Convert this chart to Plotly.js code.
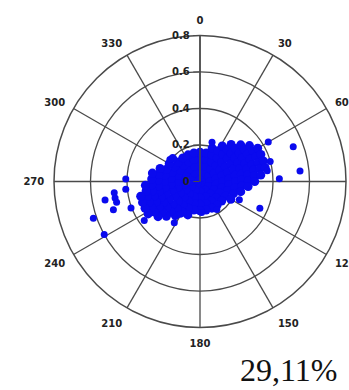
<!DOCTYPE html>
<html>
<head>
<meta charset="utf-8">
<script src="https://cdn.plot.ly/plotly-3.0.1.min.js"></script>
<style>html,body{margin:0;padding:0;background:#fff;}#chart{width:349px;height:390px;}</style>
</head>
<body>
<div id="chart"></div>
<script>
// Angular tick labels (degrees, clockwise from north)
var angleTicks = [0, 30, 60, 90, 120, 150, 180, 210, 240, 270, 300, 330];
// Radial tick values
var radialTicks = [0, 0.2, 0.4, 0.6, 0.8];
var percentLabel = "29,11%";

// Dense cluster of points (radius, angle in degrees)
var clusterR = [
  0.02,0.02,0.02,0.02,0.02,0.02,
  0.055,0.055,0.055,0.055,0.055,0.055,0.055,0.055,0.055,0.055,0.055,0.055,
  0.09,0.09,0.09,0.09,0.09,0.09,0.09,0.09,0.09,0.09,0.09,0.09,0.09,0.09,0.09,0.09,0.09,0.09,
  0.125,0.125,0.125,0.125,0.125,0.125,0.125,0.125,0.125,0.125,0.125,0.125,
  0.125,0.125,0.125,0.125,0.125,0.125,0.125,0.125,0.125,0.125,0.125,0.125,
  0.16,0.16,0.16,0.16,0.16,0.16,0.16,0.16,0.16,0.16,0.16,0.16,0.16,0.16,0.16,
  0.16,0.16,0.16,0.16,0.16,0.16,0.16,0.16,0.16,0.16,0.16,0.16,0.16,0.16,0.16,
  0.195,0.195,0.195,0.195,0.195,0.195,0.195,0.195,0.195,0.195,0.195,
  0.195,0.195,0.195,0.195,0.195,0.195,0.195,0.195,0.195,0.195,0.195,0.195,
  0.23,0.23,0.23,0.23,0.23,0.23,0.23,0.23,0.23,0.23,
  0.23,0.23,0.23,0.23,0.23,0.23,0.23,0.23,0.23,0.23,
  0.265,0.265,0.265,0.265,0.265,0.265,0.265,0.265,0.265,
  0.265,0.265,0.265,0.265,0.265,0.265,0.265,0.265,0.265,
  0.30,0.30,0.30,0.30,0.30,0.30,0.30,0.30,
  0.30,0.30,0.30,0.30,0.30,0.30,0.30,
  0.335,0.335,0.335,0.335,0.335,0.335,
  0.335,0.335,0.335,0.335,
  0.365,0.365,0.365,0.365
];
var clusterTheta = [
  0,60,120,180,240,300,
  0,30,60,90,120,150,180,210,240,270,300,330,
  0,20,40,60,80,100,120,140,160,180,200,220,240,260,280,300,320,340,
  0,15,30,45,60,75,90,105,120,135,150,165,
  180,195,210,225,240,255,270,285,300,315,330,345,
  0,12,24,36,48,60,72,84,96,108,120,132,144,156,168,
  180,192,204,216,228,240,252,264,276,288,300,312,324,336,348,
  20,30,40,50,60,70,80,90,100,110,120,
  200,210,220,230,240,250,260,270,280,290,300,310,
  32,40,48,56,64,72,80,88,96,104,
  216,224,232,240,248,256,264,272,280,288,
  40,47,54,61,68,75,82,89,96,
  224,231,238,245,252,259,266,273,280,
  48,54,60,66,72,78,84,90,
  230,236,242,248,254,260,266,
  54,60,66,72,78,84,
  238,244,250,256,
  60,66,72,78
];

// Scattered outlying points (radius, angle in degrees)
var outlierR = [0.407,0.409,0.474,0.53,0.474,0.471,0.499,0.405,0.618,0.60,0.373,0.266,
                0.204,0.158,0.225,0.432,0.545,0.551,0.435,0.373,0.40,0.359,0.238,0.179,
                0.21,0.17];
var outlierTheta = [272,264,262.5,259,259,256,252,249,251,241,235,212,
                    306,331,17,60,69.6,84,88,81,74,114,115,149,
                    211,177];

var gridCol = '#4a4a4a';
var tickFont = {family: 'DejaVu Sans, sans-serif', size: 10, color: '#222', weight: 'bold'};

var data = [{
  type: 'scatterpolar',
  mode: 'markers',
  r: clusterR,
  theta: clusterTheta,
  marker: {color: '#0a0aee', size: 9, line: {width: 0}},
  hoverinfo: 'skip'
}, {
  type: 'scatterpolar',
  mode: 'markers',
  r: outlierR,
  theta: outlierTheta,
  marker: {color: '#0a0aee', size: 7, line: {width: 0}},
  hoverinfo: 'skip'
}];

var layout = {
  width: 349, height: 390,
  margin: {l: 0, r: 0, t: 0, b: 0},
  paper_bgcolor: '#ffffff',
  showlegend: false,
  polar: {
    domain: {x: [54/349, 346/349], y: [(390-328)/390, (390-35)/390]},
    bgcolor: '#ffffff',
    angularaxis: {
      rotation: 90,
      direction: 'clockwise',
      tickmode: 'array',
      tickvals: angleTicks,
      ticktext: angleTicks.map(String),
      ticks: 'outside',
      ticklen: 7,
      tickcolor: 'rgba(0,0,0,0)',
      showline: true,
      linecolor: gridCol,
      linewidth: 1.5,
      showgrid: true,
      gridcolor: gridCol,
      gridwidth: 1.3,
      tickfont: tickFont
    },
    radialaxis: {
      range: [0, 0.8],
      angle: 90,
      side: 'counterclockwise',
      tickmode: 'array',
      tickvals: radialTicks,
      ticktext: radialTicks.map(String),
      ticks: 'outside',
      ticklen: 6,
      tickcolor: gridCol,
      showline: true,
      linecolor: gridCol,
      linewidth: 1.5,
      showgrid: true,
      gridcolor: gridCol,
      gridwidth: 1.3,
      tickfont: tickFont,
      tickangle: 90
    }
  },
  annotations: [{
    xref: 'paper', yref: 'paper',
    x: 339/349, y: (390-370)/390,
    xanchor: 'right', yanchor: 'middle',
    text: percentLabel,
    showarrow: false,
    font: {family: 'Liberation Serif, serif', size: 32, color: '#111'}
  }]
};

Plotly.newPlot('chart', data, layout, {displayModeBar: false, staticPlot: true});
</script>
</body>
</html>
